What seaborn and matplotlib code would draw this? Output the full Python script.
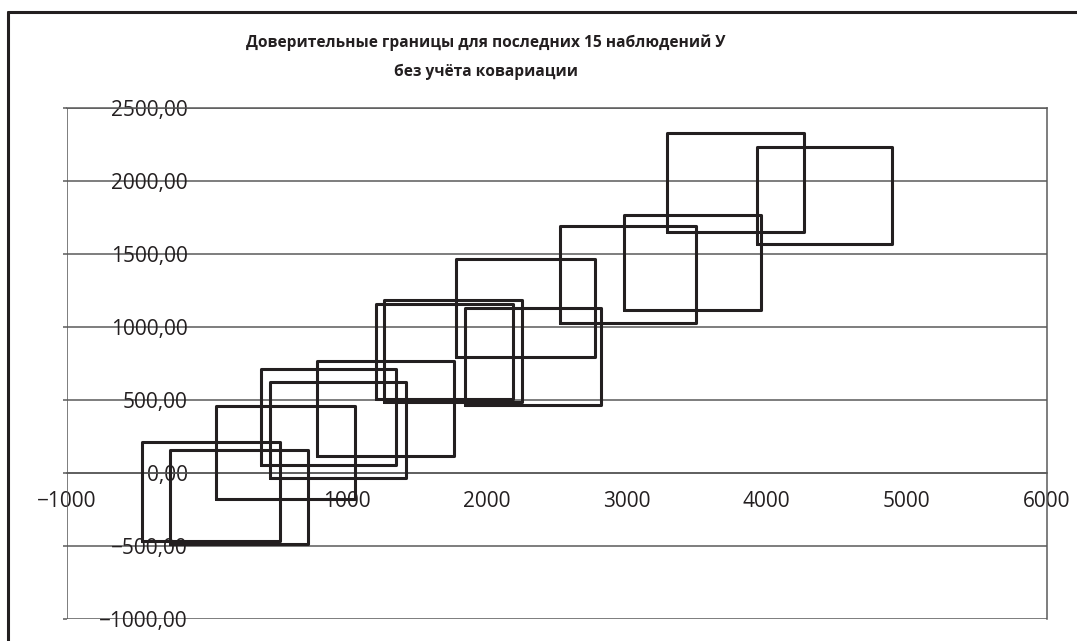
import numpy as np
import pandas as pd
import matplotlib
matplotlib.use("Agg")
import matplotlib.pyplot as plt
from matplotlib.lines import Line2D
import seaborn as sns

sns.set_theme(style="white")
plt.rcParams['font.family'] = ['Open Sans', 'DejaVu Sans']

x_lo = [-464, -262, 69, 388, 449, 786, 1209, 1269, 1845, 1781, 2524, 2981, 3286, 3929]
x_hi = [524, 720, 1057, 1355, 1426, 1766, 2185, 2250, 2816, 2774, 3495, 3962, 4266, 4893]
y_lo = [-466, -483, -174, 55, -30, 115, 511, 488, 465, 797, 1031, 1116, 1650, 1570]
y_hi = [216, 161, 461, 711, 626, 768, 1158, 1187, 1134, 1467, 1689, 1769, 2330, 2230]

x_ticks = [-1000, 0, 1000, 2000, 3000, 4000, 5000, 6000]
y_ticks = [-1000, -500, 0, 500, 1000, 1500, 2000, 2500]

title = "Доверительные границы для последних 15 наблюдений У\nбез учёта ковариации"

# Build closed rectangles (one unit per observation)
rows = []
for i in range(len(x_lo)):
    xs = [x_lo[i], x_hi[i], x_hi[i], x_lo[i], x_lo[i]]
    ys = [y_lo[i], y_lo[i], y_hi[i], y_hi[i], y_lo[i]]
    for k, (xx, yy) in enumerate(zip(xs, ys)):
        rows.append({"obs": i, "order": k, "x": xx, "y": yy})
df = pd.DataFrame(rows)

fig = plt.figure(figsize=(10.77, 6.41), dpi=100)
ax = fig.add_axes([66.7 / 1077, 1 - 619.3 / 641, 980 / 1077, (619.3 - 108) / 641])

grid_c = "#5a5a5a"
ax.set_xlim(-1000, 6000)
ax.set_ylim(-1000, 2500)
ax.set_yticks(y_ticks)
ax.set_xticks(x_ticks)
ax.yaxis.grid(True, color=grid_c, lw=1.1)
ax.xaxis.grid(False)

sns.lineplot(data=df, x="x", y="y", units="obs", estimator=None, sort=False,
             color="#231f20", lw=2.2, ax=ax, zorder=3)

ax.set_xlabel("")
ax.set_ylabel("")

# axes cross at zero, Excel-style
ax.spines['left'].set_position(('data', 0))
ax.spines['left'].set_visible(False)
ax.spines['bottom'].set_position(('data', 0))
ax.spines['bottom'].set_color(grid_c)
ax.spines['bottom'].set_linewidth(1.1)
for s in ['top', 'right']:
    ax.spines[s].set_color(grid_c)
    ax.spines[s].set_linewidth(1.1)
ax.axvline(-1000, color=grid_c, lw=1.1)
ax.hlines(y_ticks, -1025, -1000, color=grid_c, lw=1.1, clip_on=False)

ax.set_yticklabels([f"{v:.2f}".replace(".", ",").replace("-", "\u2212") for v in y_ticks])
# the zero label is hidden where the axes cross
ax.set_xticklabels(["" if v == 0 else str(v).replace("-", "\u2212") for v in x_ticks])
ax.tick_params(axis='y', length=0, pad=13.5, labelsize=15, colors="#231f20")
ax.tick_params(axis='x', length=0, pad=13, labelsize=15, colors="#231f20")

fig.text(486 / 1077, 1 - 57 / 641, title, ha="center", va="center",
         fontsize=11.2, fontweight="bold", color="#231f20", linespacing=2.05)

# outer chart frame (cropped on right and bottom)
fig.add_artist(Line2D([8.3 / 1077, 8.3 / 1077], [0, 1 - 11.7 / 641],
                      transform=fig.transFigure, color="#231f20", lw=2.2))
fig.add_artist(Line2D([8.3 / 1077, 1], [1 - 11.7 / 641, 1 - 11.7 / 641],
                      transform=fig.transFigure, color="#231f20", lw=2.2))

fig.savefig("out.png", dpi=100)
